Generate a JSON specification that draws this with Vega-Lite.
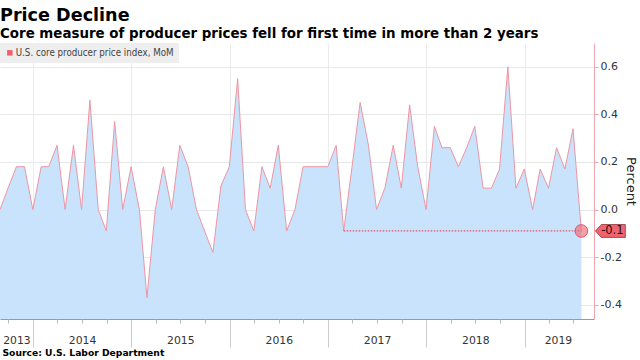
{
  "$schema": "https://vega.github.io/schema/vega-lite/v6.json",
  "width": 594,
  "height": 276,
  "autosize": "none",
  "padding": {"left": 0, "top": 43, "right": 46, "bottom": 41},
  "background": "white",
  "title": {
    "text": "Price Decline",
    "subtitle": "Core measure of producer prices fell for first time in more than 2 years",
    "anchor": "start",
    "frame": "group",
    "font": "DejaVu Sans",
    "fontSize": 17.6,
    "fontWeight": "bold",
    "color": "#000000",
    "subtitleFont": "DejaVu Sans",
    "subtitleFontSize": 13.4,
    "subtitleFontWeight": "bold",
    "subtitleColor": "#000000",
    "subtitlePadding": 2,
    "offset": 3
  },
  "config": {"view": {"stroke": null}},
  "datasets": {
    "ppi": [
      {"date": "2013-08-31", "value": 0.0},
      {"date": "2013-09-30", "value": 0.09},
      {"date": "2013-10-31", "value": 0.18},
      {"date": "2013-11-30", "value": 0.18},
      {"date": "2013-12-31", "value": 0.0},
      {"date": "2014-01-31", "value": 0.18},
      {"date": "2014-02-28", "value": 0.18},
      {"date": "2014-03-31", "value": 0.27},
      {"date": "2014-04-30", "value": 0.0},
      {"date": "2014-05-31", "value": 0.27},
      {"date": "2014-06-30", "value": 0.0},
      {"date": "2014-07-31", "value": 0.46},
      {"date": "2014-08-31", "value": 0.0},
      {"date": "2014-09-30", "value": -0.09},
      {"date": "2014-10-31", "value": 0.37},
      {"date": "2014-11-30", "value": 0.0},
      {"date": "2014-12-31", "value": 0.18},
      {"date": "2015-01-31", "value": 0.0},
      {"date": "2015-02-28", "value": -0.37},
      {"date": "2015-03-31", "value": 0.0},
      {"date": "2015-04-30", "value": 0.18},
      {"date": "2015-05-31", "value": 0.0},
      {"date": "2015-06-30", "value": 0.27},
      {"date": "2015-07-31", "value": 0.18},
      {"date": "2015-08-31", "value": 0.0},
      {"date": "2015-09-30", "value": -0.09},
      {"date": "2015-10-31", "value": -0.18},
      {"date": "2015-11-30", "value": 0.1},
      {"date": "2015-12-31", "value": 0.18},
      {"date": "2016-01-31", "value": 0.55},
      {"date": "2016-02-29", "value": 0.0},
      {"date": "2016-03-31", "value": -0.09},
      {"date": "2016-04-30", "value": 0.18},
      {"date": "2016-05-31", "value": 0.09},
      {"date": "2016-06-30", "value": 0.27},
      {"date": "2016-07-31", "value": -0.09},
      {"date": "2016-08-31", "value": 0.0},
      {"date": "2016-09-30", "value": 0.18},
      {"date": "2016-10-31", "value": 0.18},
      {"date": "2016-11-30", "value": 0.18},
      {"date": "2016-12-31", "value": 0.18},
      {"date": "2017-01-31", "value": 0.27},
      {"date": "2017-02-28", "value": -0.09},
      {"date": "2017-03-31", "value": 0.18},
      {"date": "2017-04-30", "value": 0.45},
      {"date": "2017-05-31", "value": 0.27},
      {"date": "2017-06-30", "value": 0.0},
      {"date": "2017-07-31", "value": 0.09},
      {"date": "2017-08-31", "value": 0.27},
      {"date": "2017-09-30", "value": 0.09},
      {"date": "2017-10-31", "value": 0.44},
      {"date": "2017-11-30", "value": 0.18},
      {"date": "2017-12-31", "value": 0.0},
      {"date": "2018-01-31", "value": 0.35},
      {"date": "2018-02-28", "value": 0.26},
      {"date": "2018-03-31", "value": 0.26},
      {"date": "2018-04-30", "value": 0.18},
      {"date": "2018-05-31", "value": 0.26},
      {"date": "2018-06-30", "value": 0.35},
      {"date": "2018-07-31", "value": 0.09},
      {"date": "2018-08-31", "value": 0.09},
      {"date": "2018-09-30", "value": 0.17},
      {"date": "2018-10-31", "value": 0.6},
      {"date": "2018-11-30", "value": 0.09},
      {"date": "2018-12-31", "value": 0.17},
      {"date": "2019-01-31", "value": 0.0},
      {"date": "2019-02-28", "value": 0.17},
      {"date": "2019-03-31", "value": 0.09},
      {"date": "2019-04-30", "value": 0.26},
      {"date": "2019-05-31", "value": 0.17},
      {"date": "2019-06-30", "value": 0.34},
      {"date": "2019-07-31", "value": -0.09}
    ],
    "ref": [{"start": "2017-02-28", "end": "2019-07-31", "value": -0.09}],
    "last": [{"date": "2019-07-31", "value": -0.09, "series": "U.S. core producer price index, MoM"}]
  },
  "layer": [
    {
      "data": {"name": "ppi"},
      "mark": {"type": "area", "color": "#c9e3fc", "opacity": 1},
      "encoding": {
        "x": {
          "field": "date",
          "type": "temporal",
          "scale": {
            "type": "utc",
            "domain": [
              {"year": 2013, "month": 8, "date": 31, "utc": true},
              {"year": 2019, "month": 9, "date": 16, "utc": true}
            ]
          },
          "axis": {
            "orient": "bottom",
            "values": [
              {"year": 2014, "month": 1, "date": 1, "utc": true},
              {"year": 2015, "month": 1, "date": 1, "utc": true},
              {"year": 2016, "month": 1, "date": 1, "utc": true},
              {"year": 2017, "month": 1, "date": 1, "utc": true},
              {"year": 2018, "month": 1, "date": 1, "utc": true},
              {"year": 2019, "month": 1, "date": 1, "utc": true}
            ],
            "labels": false,
            "ticks": true,
            "tickSize": 28,
            "tickColor": "#cccccc",
            "domain": true,
            "domainColor": "#999999",
            "grid": true,
            "gridColor": "#ebebeb",
            "title": "Source: U.S. Labor Department",
            "titleFont": "DejaVu Sans",
            "titleFontSize": 9.2,
            "titleFontWeight": "bold",
            "titleColor": "#000000",
            "titleAlign": "left",
            "titleAnchor": "start",
            "titleBaseline": "alphabetic",
            "titleX": 2,
            "titleY": 36
          }
        },
        "y": {
          "field": "value",
          "type": "quantitative",
          "scale": {"domain": [-0.46, 0.7], "nice": false, "zero": false},
          "axis": {
            "orient": "right",
            "values": [-0.4, -0.3, -0.2, -0.1, 0, 0.1, 0.2, 0.3, 0.4, 0.5, 0.6],
            "labelExpr": "abs(round(datum.value*10)) % 2 == 0 ? replace(format(datum.value, '.1f'), '\u2212', '-') : ''",
            "labelOverlap": false,
            "labelFont": "DejaVu Sans",
            "labelFontSize": 11,
            "labelColor": "#333333",
            "labelPadding": 2,
            "tickSize": 4,
            "tickColor": "#f0a4ad",
            "domainColor": "#f0a4ad",
            "grid": true,
            "gridColor": "#e8e8e8",
            "gridOpacity": {"condition": {"test": "abs(round(datum.value*10)) % 2 == 1", "value": 0}, "value": 1},
            "title": "Percent",
            "titleAngle": 90,
            "titleFont": "DejaVu Sans",
            "titleFontSize": 13,
            "titleFontWeight": "normal",
            "titleColor": "#222222",
            "titlePadding": 2
          }
        },
        "y2": {"datum": -0.46}
      }
    },
    {
      "data": {"name": "ppi"},
      "mark": {"type": "line", "color": "#ec96a3", "strokeWidth": 1},
      "encoding": {
        "x": {
          "field": "date",
          "type": "temporal",
          "axis": {
            "orient": "bottom",
            "values": [
              {"year": 2013, "month": 10, "date": 31, "utc": true},
              {"year": 2014, "month": 7, "date": 2, "utc": true},
              {"year": 2015, "month": 7, "date": 2, "utc": true},
              {"year": 2016, "month": 7, "date": 2, "utc": true},
              {"year": 2017, "month": 7, "date": 2, "utc": true},
              {"year": 2018, "month": 7, "date": 2, "utc": true},
              {"year": 2019, "month": 5, "date": 5, "utc": true}
            ],
            "labelExpr": "utcFormat(datum.value, '%Y')",
            "ticks": false,
            "domain": false,
            "grid": false,
            "labelFont": "DejaVu Sans",
            "labelFontSize": 10.8,
            "labelColor": "#333333",
            "labelPadding": 15,
            "labelFlush": false,
            "labelOverlap": false,
            "title": null
          }
        },
        "y": {"field": "value", "type": "quantitative"}
      }
    },
    {
      "data": {"name": "ref"},
      "mark": {"type": "rule", "color": "#e25566", "strokeWidth": 1.2, "strokeDash": [1.5, 1.5]},
      "encoding": {
        "x": {
          "field": "start",
          "type": "temporal",
          "axis": {
            "orient": "bottom",
            "values": [
              {"year": 2013, "month": 10, "date": 1, "utc": true},
              {"year": 2014, "month": 4, "date": 1, "utc": true},
              {"year": 2014, "month": 7, "date": 1, "utc": true},
              {"year": 2014, "month": 10, "date": 1, "utc": true},
              {"year": 2015, "month": 4, "date": 1, "utc": true},
              {"year": 2015, "month": 7, "date": 1, "utc": true},
              {"year": 2015, "month": 10, "date": 1, "utc": true},
              {"year": 2016, "month": 4, "date": 1, "utc": true},
              {"year": 2016, "month": 7, "date": 1, "utc": true},
              {"year": 2016, "month": 10, "date": 1, "utc": true},
              {"year": 2017, "month": 4, "date": 1, "utc": true},
              {"year": 2017, "month": 7, "date": 1, "utc": true},
              {"year": 2017, "month": 10, "date": 1, "utc": true},
              {"year": 2018, "month": 4, "date": 1, "utc": true},
              {"year": 2018, "month": 7, "date": 1, "utc": true},
              {"year": 2018, "month": 10, "date": 1, "utc": true},
              {"year": 2019, "month": 4, "date": 1, "utc": true},
              {"year": 2019, "month": 7, "date": 1, "utc": true}
            ],
            "labels": false,
            "ticks": true,
            "tickSize": 4,
            "tickColor": "#bbbbbb",
            "domain": false,
            "grid": false,
            "title": null
          }
        },
        "x2": {"field": "end"},
        "y": {"field": "value", "type": "quantitative"}
      }
    },
    {
      "data": {"name": "last"},
      "mark": {"type": "point", "filled": true, "size": 160, "fillOpacity": 0.6, "stroke": "#e04a58", "strokeWidth": 1, "strokeOpacity": 0.9},
      "encoding": {
        "x": {"field": "date", "type": "temporal", "axis": null},
        "y": {"field": "value", "type": "quantitative"},
        "color": {
          "field": "series",
          "type": "nominal",
          "scale": {"range": ["#f0606c"]},
          "legend": {
            "orient": "top-left",
            "offset": 0,
            "padding": 5,
            "fillColor": "#eeeeee",
            "title": null,
            "symbolType": "square",
            "symbolSize": 30,
            "symbolOpacity": 1,
            "symbolStrokeWidth": 0,
            "symbolFillColor": "#f0606c",
            "labelFont": "DejaVu Sans Condensed, Liberation Sans Narrow, Roboto Condensed, sans-serif",
            "labelFontSize": 9.7,
            "labelColor": "#444444",
            "labelOffset": 1,
            "labelLimit": 300
          }
        }
      }
    },
    {
      "data": {"name": "last"},
      "mark": {
        "type": "point",
        "shape": "M-1,0 L-0.6,-0.43 L1,-0.43 L1,0.43 L-0.6,0.43 Z",
        "size": 900,
        "filled": true,
        "fill": "#f0646f",
        "fillOpacity": 1,
        "stroke": "#7a2a2a",
        "strokeWidth": 0.7,
        "xOffset": 29
      },
      "encoding": {
        "x": {"field": "date", "type": "temporal", "axis": null},
        "y": {"field": "value", "type": "quantitative"}
      }
    },
    {
      "data": {"name": "last"},
      "transform": [{"calculate": "replace(format(datum.value, '.1f'), '\u2212', '-')", "as": "label"}],
      "mark": {"type": "text", "font": "DejaVu Sans", "fontSize": 11.5, "color": "#2a0a0a", "align": "center", "baseline": "middle", "xOffset": 31},
      "encoding": {
        "x": {"field": "date", "type": "temporal", "axis": null},
        "y": {"field": "value", "type": "quantitative"},
        "text": {"field": "label"}
      }
    }
  ],
  "resolve": {"axis": {"x": "independent"}}
}
